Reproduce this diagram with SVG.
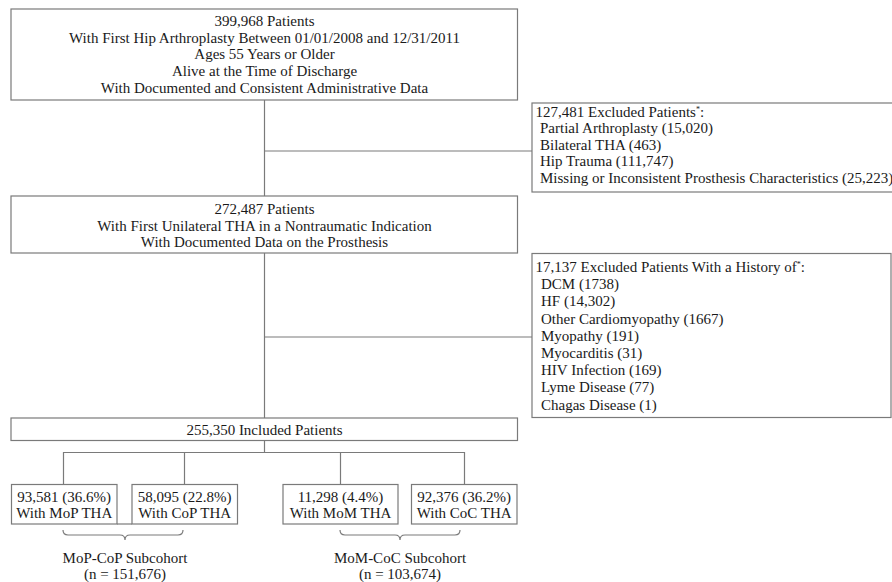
<svg xmlns="http://www.w3.org/2000/svg" width="892" height="582" viewBox="0 0 892 582">
<style>
.box{fill:#fff;stroke:#7a7a7a;stroke-width:1.2}
.ln{fill:none;stroke:#7a7a7a;stroke-width:1.2}
text{font-family:"Liberation Serif","Times New Roman",serif;font-size:15px;fill:#1a1a1a}
.c{text-anchor:middle}
.sup{font-size:8px}
</style>
<rect width="892" height="582" fill="#fff"/>
<g id="connectors">
<path class="ln" d="M264.5,100 V196"/>
<path class="ln" d="M264.5,151 H532"/>
<path class="ln" d="M264.5,253 V418"/>
<path class="ln" d="M264.5,337 H532"/>
<path class="ln" d="M264.5,440.5 V452.5"/>
<path class="ln" d="M63.5,484.5 V452.5 H464.5 V484.5"/>
<path class="ln" d="M184.5,452.5 V484.5"/>
<path class="ln" d="M340.5,452.5 V484.5"/>
<path class="ln" d="M117,524 H132"/>
<path class="ln" d="M63,530 Q63,535 68,535 L120,535 Q125,535 125,540 Q125,535 130,535 L178,535 Q183,535 183,530"/>
<path class="ln" d="M340,530 Q340,535 345,535 L395,535 Q400,535 400,540 Q400,535 405,535 L455,535 Q460,535 460,530"/>
</g>
<g id="n1">
<rect class="box" x="11" y="9" width="506.5" height="91"/>
<text class="c" x="264.5" y="26">399,968 Patients</text>
<text class="c" x="264.5" y="42.7">With First Hip Arthroplasty Between 01/01/2008 and 12/31/2011</text>
<text class="c" x="264.5" y="59.4">Ages 55 Years or Older</text>
<text class="c" x="264.5" y="76.1">Alive at the Time of Discharge</text>
<text class="c" x="264.5" y="92.8">With Documented and Consistent Administrative Data</text>
</g>
<g id="ex1">
<rect class="box" x="532" y="103" width="380" height="89"/>
<text x="535.5" y="116.5">127,481 Excluded Patients<tspan class="sup" dy="-5">*</tspan><tspan dy="5">:</tspan></text>
<text x="540" y="133">Partial Arthroplasty (15,020)</text>
<text x="540" y="149.5">Bilateral THA (463)</text>
<text x="540" y="166">Hip Trauma (111,747)</text>
<text x="540" y="182.5">Missing or Inconsistent Prosthesis Characteristics (25,223)</text>
</g>
<g id="n2">
<rect class="box" x="11" y="196" width="506.5" height="57"/>
<text class="c" x="264.5" y="214">272,487 Patients</text>
<text class="c" x="264.5" y="230.5">With First Unilateral THA in a Nontraumatic Indication</text>
<text class="c" x="264.5" y="247">With Documented Data on the Prosthesis</text>
</g>
<g id="ex2">
<rect class="box" x="532" y="253.5" width="359" height="164"/>
<text x="535.5" y="272">17,137 Excluded Patients With a History of<tspan class="sup" dy="-5">*</tspan><tspan dy="5">:</tspan></text>
<text x="541" y="289.2">DCM (1738)</text>
<text x="541" y="306.4">HF (14,302)</text>
<text x="541" y="323.6">Other Cardiomyopathy (1667)</text>
<text x="541" y="340.8">Myopathy (191)</text>
<text x="541" y="358">Myocarditis (31)</text>
<text x="541" y="375.2">HIV Infection (169)</text>
<text x="541" y="392.4">Lyme Disease (77)</text>
<text x="541" y="409.6">Chagas Disease (1)</text>
</g>
<g id="n3">
<rect class="box" x="11" y="418" width="506.5" height="22.5"/>
<text class="c" x="264.5" y="434.5">255,350 Included Patients</text>
</g>
<g id="mop">
<rect class="box" x="11.5" y="484.5" width="105.5" height="39.5"/>
<text class="c" x="64.2" y="502">93,581 (36.6%)</text>
<text class="c" x="64.2" y="518">With MoP THA</text>
</g>
<g id="cop">
<rect class="box" x="132" y="484.5" width="105.5" height="39.5"/>
<text class="c" x="184.7" y="502">58,095 (22.8%)</text>
<text class="c" x="184.7" y="518">With CoP THA</text>
</g>
<g id="mom">
<rect class="box" x="283" y="484.5" width="115" height="39.5"/>
<text class="c" x="340.5" y="502">11,298 (4.4%)</text>
<text class="c" x="340.5" y="518">With MoM THA</text>
</g>
<g id="coc">
<rect class="box" x="411.5" y="484.5" width="105.5" height="39.5"/>
<text class="c" x="464.2" y="502">92,376 (36.2%)</text>
<text class="c" x="464.2" y="518">With CoC THA</text>
</g>
<g id="sub1">
<text class="c" x="125" y="563">MoP-CoP Subcohort</text>
<text class="c" x="125" y="578.5">(n = 151,676)</text>
</g>
<g id="sub2">
<text class="c" x="400" y="563">MoM-CoC Subcohort</text>
<text class="c" x="400" y="578.5">(n = 103,674)</text>
</g>
</svg>
